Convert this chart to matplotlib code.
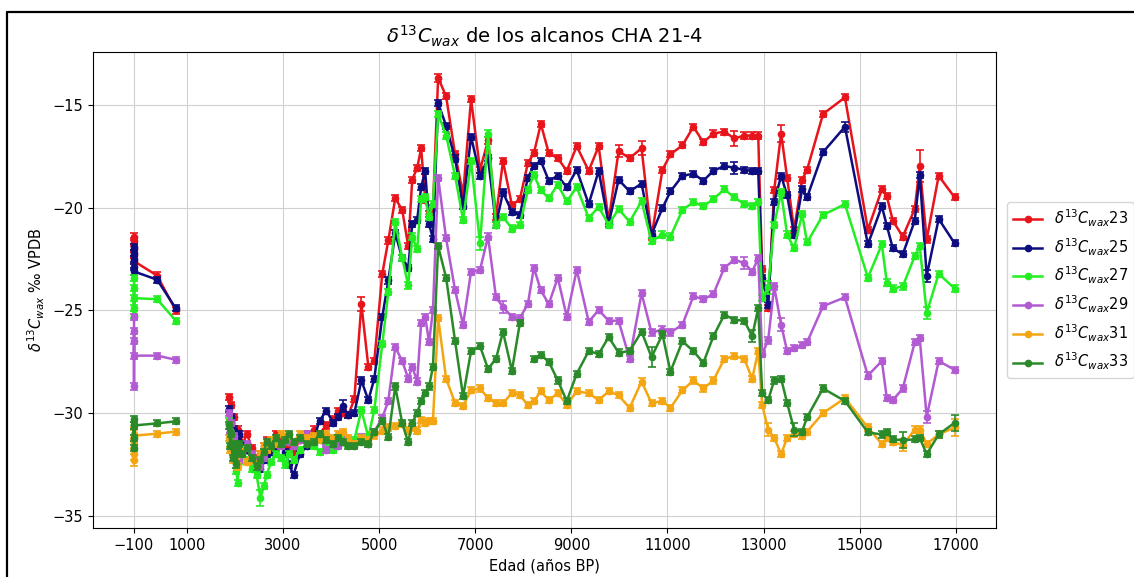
import numpy as np
import matplotlib
matplotlib.use("Agg")
import matplotlib.pyplot as plt
from matplotlib.lines import Line2D

nan = np.nan

# --- modern / surface samples (plotted as a separate stretch) ---
edad_sup = [-100, -100, -100, -100, -100, 380, 770]
c23_sup = [-21.4, -21.6, -22.0, -22.3, -22.6, -23.3, -25.0]
c25_sup = [-21.9, -22.2, -22.5, -22.9, -23.1, -23.5, -24.9]
c27_sup = [-23.4, -25.2, -23.9, -24.9, -24.4, -24.45, -25.5]
c29_sup = [-25.3, -28.7, -26.0, -26.5, -27.2, -27.2, -27.4]
c31_sup = [-31.0, -32.3, -32.0, -31.5, -31.1, -31.0, -30.9]
c33_sup = [-30.3, -31.7, -30.6, -31.2, -30.6, -30.5, -30.4]

# --- core samples ---
edad = [1880, 1900, 1920, 1950, 1980, 2000, 2030, 2060, 2080, 2150,
        2250, 2350, 2450, 2530, 2600, 2660, 2750, 2850, 2950, 3050,
        3120, 3220, 3350, 3500, 3650, 3760, 3900, 4050, 4150, 4240, 4360, 4485,
        4631, 4776, 4900, 5066, 5191, 5336, 5481, 5606, 5689, 5792, 5875, 5958, 6040, 6120, 6228,
        6394, 6581, 6747, 6913, 7100, 7266, 7432, 7577, 7763, 7929, 8095, 8220, 8365, 8531, 8718,
        8905, 9112, 9361, 9568, 9776, 9983,
        10212, 10461, 10668, 10896, 11062, 11311, 11539, 11747, 11954, 12183, 12390, 12598, 12763, 12888,
        12971, 13095, 13220, 13365, 13490, 13635, 13801, 13905, 14237, 14693, 15170, 15461, 15564, 15689,
        15896, 16145, 16249, 16394, 16643, 16975]

c23 = [-29.2, -30.5, -29.6, -31.0, -30.2, -31.5, -31.8, -30.8, -31.3, -31.6,
       -31.0, -31.7, -32.2, -32.0, -31.6, -31.3, -31.5, -31.0, -31.2, -31.5,
       -31.8, -31.9, -31.3, -31.0, -30.8, -31.0, -30.6, -30.3, -29.9, -30.0, -30.1, -29.3,
       -24.69, -27.74, -27.46, -23.21, -21.59, -19.53, -20.11, -21.87, -18.63, -18.05, -17.1, -19.6, -20.3, -20.0, -13.66,
       -14.57, -17.39, -19.34, -14.71, -18.15, -16.72, -20.44, -17.72, -19.87, -19.58, -17.82, -17.34, -15.91, -17.34, -17.58,
       -18.2, -17.0, -18.2, -17.0, -20.63, -17.24,
       -17.58, -17.1, -21.4, -18.15, -17.39, -16.96, -16.05, -16.81, -16.38, -16.29, -16.62, -16.48, -16.48, -16.48,
       -23.0, -24.88, -19.15, -16.38, -18.53, -21.06, -18.63, -18.15, -15.43, -14.62, -21.06, -19.1, -19.44, -20.63,
       -21.4, -20.06, -17.96, -21.54, -18.44, -19.49]

c25 = [-29.8, -30.9, -30.2, -31.5, -30.8, -31.9, -32.2, -31.7, -31.0, -31.5,
       -31.8, -32.3, -32.5, -32.7, -32.3, -32.0, -31.9, -31.7, -31.5, -31.9,
       -32.5, -33.0, -32.0, -31.6, -31.2, -30.37, -29.89, -30.47, -30.2, -29.65, -30.08, -29.99,
       -28.41, -29.37, -28.32, -25.31, -23.54, -21.25, -22.45, -22.92, -20.78, -20.58, -19.0, -18.2, -20.8, -21.5, -14.9,
       -16.0, -17.6, -19.92, -16.53, -18.44, -17.58, -20.82, -19.25, -20.2, -20.35, -18.53, -17.96, -17.72, -18.68, -18.44,
       -19.0, -18.15, -19.82, -18.2, -20.78, -18.63,
       -19.2, -18.82, -21.3, -20.01, -19.2, -18.44, -18.34, -18.68, -18.2, -17.96, -18.05, -18.15, -18.2, -18.2,
       -23.4, -24.74, -19.73, -18.44, -19.39, -21.3, -19.1, -19.49, -17.29, -16.05, -21.78, -19.92, -20.87, -21.97,
       -22.26, -20.63, -18.39, -23.31, -20.54, -21.73]

c27 = [-30.4, -31.5, -31.0, -32.0, -31.3, -32.3, -32.8, -33.42, -32.0, -31.8,
       -32.3, -32.7, -33.0, -34.14, -33.57, -33.0, -32.4, -32.0, -32.2, -32.5,
       -32.0, -32.3, -31.8, -31.5, -31.6, -31.9, -31.6, -31.8, -31.4, -31.2, -31.5, -31.3,
       -29.84, -31.18, -29.84, -26.65, -24.12, -20.68, -22.45, -23.78, -21.4, -22.02, -19.58, -19.49, -20.44, -19.8, -15.43,
       -16.48, -18.44, -20.59, -17.72, -21.73, -16.38, -20.82, -20.44, -21.01, -20.82, -19.15, -18.39, -19.15, -19.53, -18.87,
       -19.68, -19.0, -20.49, -19.96, -20.82, -20.06,
       -20.68, -19.68, -21.63, -21.3, -21.4, -20.1, -19.73, -19.92, -19.58, -19.1, -19.49, -19.82, -19.92, -19.73,
       -24.4, -23.88, -20.82, -19.25, -21.3, -21.97, -20.3, -21.68, -20.35, -19.82, -23.4, -21.78, -23.64, -23.93,
       -23.83, -22.35, -21.87, -25.12, -23.21, -23.93]

c29 = [-30.0, -30.8, -30.5, -31.5, -31.1, -32.0, -31.6, -31.8, -32.3, -31.9,
       -31.5, -32.0, -32.4, -32.6, -32.2, -31.7, -31.5, -31.3, -31.6, -31.2,
       -31.4, -31.6, -31.3, -31.0, -31.4, -31.2, -31.8, -31.5, -31.6, -31.4, -31.3, -31.5,
       -31.18, -31.5, -30.9, -30.23, -29.41, -26.79, -27.46, -28.32, -27.74, -28.46, -25.6, -25.31, -26.55, -24.98, -18.53,
       -21.49, -24.02, -25.69, -23.11, -23.02, -21.4, -24.36, -24.83, -25.31, -25.36, -24.69, -22.92, -24.02, -24.69, -23.4,
       -25.31, -23.02, -25.55, -24.98, -25.5, -25.5,
       -27.36, -24.16, -26.07, -25.93, -26.07, -25.69, -24.31, -24.45, -24.21, -22.92, -22.54, -22.68, -23.11, -22.45,
       -27.12, -26.46, -23.83, -25.69, -26.98, -26.84, -26.69, -26.55, -24.79, -24.36, -28.17, -27.46, -29.27, -29.37,
       -28.8, -26.55, -26.36, -30.18, -27.46, -27.89]

c31 = [-31.2, -31.8, -31.5, -32.3, -32.0, -31.6, -32.2, -32.6, -32.0, -31.8,
       -32.4, -32.3, -32.5, -32.0, -31.6, -31.8, -31.3, -31.5, -31.0, -31.3,
       -31.1, -31.4, -31.0, -31.2, -31.1, -31.3, -31.0, -31.2, -31.0, -30.9, -31.2, -31.5,
       -31.2, -31.3, -31.09, -30.85, -30.7, -30.61, -30.51, -30.85, -30.7, -30.85, -30.32, -30.5, -30.37, -30.37, -25.36,
       -28.32, -29.51, -29.65, -28.89, -28.8, -29.27, -29.51, -29.51, -29.03, -29.13, -29.6, -29.41, -28.94, -29.37, -29.03,
       -29.6, -28.94, -29.03, -29.37, -28.94, -29.13,
       -29.75, -28.46, -29.51, -29.41, -29.75, -28.89, -28.41, -28.8, -28.41, -27.36, -27.22, -27.36, -28.32, -26.98,
       -29.6, -30.8, -31.2, -32.0, -31.2, -31.0, -31.1, -30.9, -30.0, -29.27, -30.7, -31.5, -31.2, -31.4,
       -31.56, -30.8, -30.8, -31.5, -31.04, -30.7]

c33 = [-30.6, -31.6, -31.0, -32.2, -31.5, -31.8, -32.5, -31.9, -31.5, -32.0,
       -31.7, -32.2, -32.6, -32.3, -31.9, -31.4, -31.6, -31.2, -31.5, -31.3,
       -31.0, -31.4, -31.2, -31.5, -31.4, -31.0, -31.3, -31.5, -31.2, -31.4, -31.6, -31.6,
       -31.4, -31.5, -30.9, -30.37, -31.18, -28.7, -30.5, -31.42, -30.47, -29.99, -29.41, -29.0, -28.7, -27.74, -21.87,
       -23.4, -26.5, -29.18, -26.98, -26.74, -27.84, -27.36, -26.03, -27.94, -25.6, nan, -27.36, -27.17, -27.5, -28.41,
       -29.41, -28.08, -26.98, -27.12, -26.3, -27.05,
       -26.98, -26.03, -27.27, -26.17, -27.98, -26.5, -26.98, -27.55, -26.26, -25.21, -25.45, -25.5, -26.26, -24.88,
       -29.03, -29.37, -28.41, -28.32, -29.51, -30.8, -30.9, -30.2, -28.8, -29.41, -30.94, -31.04, -30.94, -31.28,
       -31.32, -31.28, -31.2, -32.0, -31.04, -30.47]

series_labels = [r'$\delta^{13}C_{wax}$23', r'$\delta^{13}C_{wax}$25', r'$\delta^{13}C_{wax}$27',
                 r'$\delta^{13}C_{wax}$29', r'$\delta^{13}C_{wax}$31', r'$\delta^{13}C_{wax}$33']
series_core = [c23, c25, c27, c29, c31, c33]
series_sup = [c23_sup, c25_sup, c27_sup, c29_sup, c31_sup, c33_sup]
colors = ['#e8141b', '#0d0d80', '#22ee22', '#b25ad2', '#f4a612', '#2a8a2a']

# typical analytical error (permil) and larger ones at specific ages
err_default = 0.15
err_big = {
    0: {4631: 0.35, 6228: 0.2, 9983: 0.3, 10461: 0.35, 12390: 0.35, 13365: 0.4, 16249: 0.8},
    1: {4240: 0.3, 12390: 0.3, 14693: 0.25, 16394: 0.3},
    2: {2080: 0.5, 2530: 0.4, 7100: 0.3, 13095: 0.3, 16394: 0.3},
    3: {7577: 0.3, 12598: 0.3, 13365: 0.3, 16394: 0.3},
    4: {-100: 0.3, 13095: 0.3, 15896: 0.3, 16975: 0.4},
    5: {10668: 0.5, 12763: 0.3, 13635: 0.3, 15896: 0.4, 16975: 0.4},
}

xticks = [-100, 1000, 3000, 5000, 7000, 9000, 11000, 13000, 15000, 17000]

for v in series_core:
    assert len(v) == len(edad), len(v)
for v in series_sup:
    assert len(v) == len(edad_sup), len(v)

plt.rcParams['font.family'] = ['DejaVu Sans']
fig = plt.figure(figsize=(11.34, 5.77), dpi=100)
ax = fig.add_axes([0.082, 0.085, 0.796, 0.825])

handles = []
for i, lab, col in zip(range(6), series_labels, colors):
    for ages, vals in ((edad_sup, series_sup[i]), (edad, series_core[i])):
        x = np.array(ages, dtype=float)
        y = np.array(vals, dtype=float)
        e = np.array([err_big[i].get(a, err_default) for a in ages])
        ax.errorbar(x, y, yerr=e, fmt='none', ecolor=col, elinewidth=1.2,
                    capsize=3, capthick=1.2, zorder=2 + i)
        h, = ax.plot(x, y, '-o', color=col, lw=1.8, ms=4.5, label=lab, zorder=2 + i)
    handles.append(h)

ax.set_xticks(xticks)
ax.grid(True, color='#d0d0d0', lw=0.8)
ax.set_axisbelow(True)
ax.tick_params(labelsize=10.5)
ax.set_title(r'$\delta^{13}C_{wax}$ de los alcanos CHA 21-4', fontsize=14, pad=6)
ax.set_xlabel('Edad (años BP)', fontsize=10.5)
ax.set_ylabel(r'$\delta^{13}C_{wax}$ ‰ VPDB', fontsize=10.5)
ax.legend(handles=handles, loc='center left', bbox_to_anchor=(1.005, 0.5), fontsize=10.5)

# screenshot frame
fig.add_artist(Line2D([7 / 1134, 7 / 1134, 1.0], [0.0, 1 - 12 / 577, 1 - 12 / 577],
                      transform=fig.transFigure, color='black', lw=1.6))

fig.savefig('out.png', dpi=100)
